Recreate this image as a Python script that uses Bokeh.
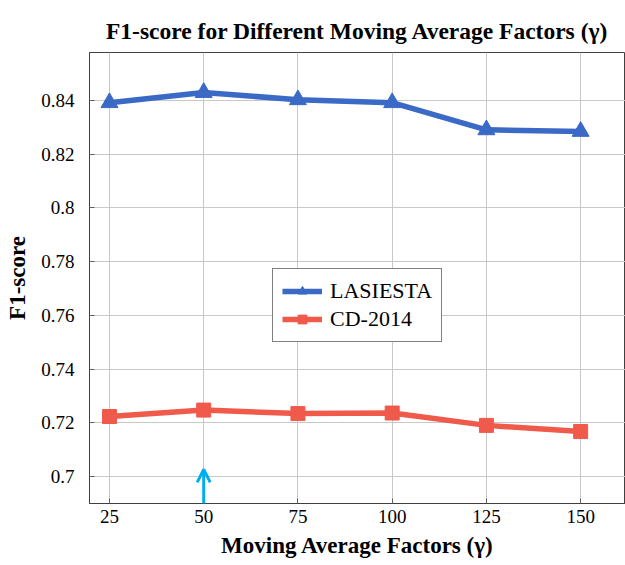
from bokeh.plotting import figure
from bokeh.models import (Range1d, FixedTicker, Arrow, OpenHead, Legend, LegendItem, Title)
from bokeh.embed import file_html
from bokeh.resources import INLINE

# ---- data ----
gamma = [25, 50, 75, 100, 125, 150]
lasiesta = [0.8392, 0.8430, 0.8403, 0.8392, 0.8291, 0.8285]
cd2014 = [0.7223, 0.7247, 0.7234, 0.7236, 0.7190, 0.7167]
x_ticks = [25, 50, 75, 100, 125, 150]
y_ticks = [0.70, 0.72, 0.74, 0.76, 0.78, 0.80, 0.82, 0.84]
y_tick_labels = ["0.7", "0.72", "0.74", "0.76", "0.78", "0.8", "0.82", "0.84"]
best_gamma = 50
title_text = "F1-score for Different Moving Average Factors (γ)"

BLUE = "#3a69c6"
RED = "#f05a4b"
CYAN = "#00aeef"
SERIF = "Liberation Serif"
TICKFONT = "'Liberation Serif'"

p = figure(width=625, height=565, output_backend="svg", toolbar_location=None,
           x_range=Range1d(19.7, 161.9), y_range=Range1d(0.6899, 0.8579),
           min_border_left=89, min_border_top=52, min_border_bottom=62, min_border_right=0)

p.title = Title(text=title_text, align="center", vertical_align="top", standoff=14,
                offset=-8, text_font=SERIF, text_font_size="23.5px", text_font_style="bold",
                text_color="black")

p.outline_line_color = "#404040"
p.outline_line_width = 1
p.background_fill_color = "white"
p.border_fill_color = "white"

for ax in (p.xaxis[0], p.yaxis[0]):
    ax.axis_line_color = "#404040"
    ax.major_tick_in = 5
    ax.major_tick_out = 0
    ax.major_tick_line_color = "#606060"
    ax.minor_tick_line_color = None
    ax.major_label_text_font = TICKFONT
    ax.major_label_text_font_size = "19px"
    ax.major_label_text_color = "black"
    ax.axis_label_text_font = SERIF
    ax.axis_label_text_font_size = "23px"
    ax.axis_label_text_font_style = "bold"
    ax.axis_label_text_color = "black"

p.xaxis[0].ticker = FixedTicker(ticks=x_ticks)
p.yaxis[0].ticker = FixedTicker(ticks=y_ticks)
p.yaxis[0].major_label_overrides = {t: l for t, l in zip(y_ticks, y_tick_labels)}
p.xaxis[0].axis_label = "Moving Average Factors (γ)"
p.yaxis[0].axis_label = "F1-score"
p.xaxis[0].major_label_standoff = 6
p.xaxis[0].axis_label_standoff = 7
p.yaxis[0].major_label_standoff = 15
p.yaxis[0].axis_label_standoff = 8

p.grid.grid_line_color = "#c8c8c8"
p.grid.grid_line_width = 1

l1 = p.line(gamma, lasiesta, line_color=BLUE, line_width=5.5)
m1 = p.scatter(gamma, lasiesta, marker="triangle", size=17, fill_color=BLUE, line_color=BLUE)
l2 = p.line(gamma, cd2014, line_color=RED, line_width=5.5)
m2 = p.scatter(gamma, cd2014, marker="square", size=14, fill_color=RED, line_color=RED)

arrow = Arrow(end=OpenHead(size=13, line_color=CYAN, line_width=3),
              x_start=best_gamma, y_start=0.6899, x_end=best_gamma, y_end=0.7026,
              line_color=CYAN, line_width=3)
p.add_layout(arrow)

legend = Legend(items=[LegendItem(label="LASIESTA", renderers=[l1, m1]),
                       LegendItem(label="CD-2014", renderers=[l2, m2])],
                location=(183, 161), border_line_color="black", border_line_width=1,
                label_text_font=SERIF, label_text_font_size="22px", label_text_color="black",
                glyph_width=40, glyph_height=22, padding=9, spacing=2, margin=0,
                label_standoff=8, background_fill_alpha=1)
p.add_layout(legend)

open("out.html", "w").write(file_html(p, INLINE))
